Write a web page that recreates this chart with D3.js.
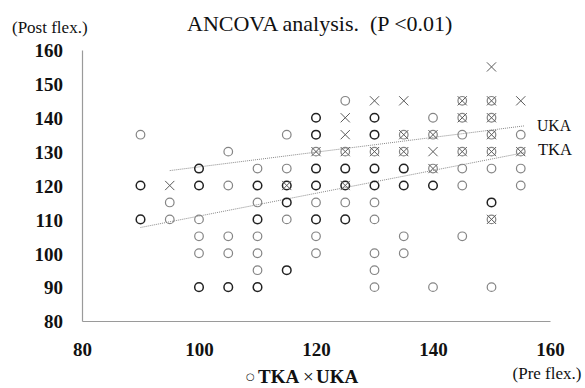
<!DOCTYPE html>
<html><head><meta charset="utf-8">
<script src="https://cdn.jsdelivr.net/npm/d3@7"></script>
<style>body{margin:0;background:#fff}svg{display:block}</style></head>
<body><svg id="c" width="585" height="388"></svg>
<script>
// Pre-op flexion columns (x) and the post-op flexion values (y) found in each
const tkaColumns = [90, 95, 100, 105, 110, 115, 120, 125, 130, 135, 140, 145, 150, 155];
const tkaPost = [
  [135, 120, 110],
  [115, 110],
  [125, 120, 110, 105, 100, 90],
  [130, 120, 105, 100, 90],
  [125, 120, 115, 110, 105, 100, 95, 90],
  [135, 125, 120, 115, 110, 95],
  [140, 135, 130, 125, 120, 115, 110, 105, 100],
  [145, 130, 125, 120, 115, 110],
  [140, 135, 130, 125, 120, 115, 110, 100, 95, 90],
  [135, 130, 125, 120, 105, 100],
  [140, 135, 125, 120, 90],
  [145, 140, 135, 130, 125, 120, 105],
  [145, 140, 135, 130, 125, 115, 110, 90],
  [135, 130, 125, 120]
];
// number of overlapping patients (darker circle = 2)
const tkaCount = [
  [1, 2, 2],
  [1, 1],
  [2, 2, 1, 1, 1, 2],
  [1, 1, 1, 1, 2],
  [1, 2, 1, 2, 1, 1, 1, 2],
  [1, 1, 2, 2, 1, 2],
  [2, 2, 1, 2, 2, 1, 2, 1, 1],
  [1, 1, 2, 2, 1, 2],
  [2, 2, 1, 2, 2, 1, 1, 1, 1, 1],
  [1, 1, 2, 2, 1, 1],
  [1, 1, 1, 2, 1],
  [1, 1, 1, 1, 1, 1, 1],
  [1, 1, 1, 1, 1, 2, 1, 1],
  [1, 1, 1, 1]
];
const ukaPre  = [95, 115, 120, 125, 125, 125, 125, 130, 130, 135, 135, 135, 140, 140, 140, 145, 145, 145, 150, 150, 150, 150, 150, 150, 155, 155];
const ukaPost = [120, 120, 130, 140, 135, 130, 120, 145, 130, 145, 135, 130, 135, 130, 125, 145, 140, 130, 155, 145, 140, 135, 130, 110, 145, 130];

// regression lines (end points)
const ukaTrendPre  = [95, 155.6];
const ukaTrendPost = [124.4, 137.6];
const tkaTrendPre  = [90, 155.6];
const tkaTrendPost = [107.6, 129.7];

const xTicks = [80, 100, 120, 140, 160];
const yTicks = [80, 90, 100, 110, 120, 130, 140, 150, 160];

const FONT = "'Liberation Serif','Times New Roman',serif";
const svg = d3.select('#c');
const x = d3.scaleLinear().domain([80, 160]).range([82, 550]);
const y = d3.scaleLinear().domain([80, 160]).range([321, 50]);

// axes
const gy = svg.append('g').attr('transform', `translate(${x(80)},0)`)
  .call(d3.axisLeft(y).tickValues(yTicks).tickSize(0).tickPadding(19).tickFormat(d3.format('d')));
const gx = svg.append('g').attr('transform', `translate(0,${y(80)})`)
  .call(d3.axisBottom(x).tickValues(xTicks).tickSize(0).tickPadding(21.5).tickFormat(d3.format('d')));
[gx, gy].forEach(g => {
  g.attr('font-family', FONT);
  g.select('.domain').attr('stroke', '#9a9a9a').attr('stroke-width', 1.2);
  g.selectAll('text').attr('font-family', FONT).attr('font-size', 19).attr('font-weight', 'bold').attr('fill', '#111');
});
gy.selectAll('text').attr('dy', '0.36em');

// trend lines
const trends = [[ukaTrendPre, ukaTrendPost], [tkaTrendPre, tkaTrendPost]];
svg.append('g').selectAll('line').data(trends).join('line')
  .attr('x1', d => x(d[0][0])).attr('y1', d => y(d[1][0]))
  .attr('x2', d => x(d[0][1])).attr('y2', d => y(d[1][1]))
  .attr('stroke', '#8a8a8a').attr('stroke-width', 1).attr('stroke-dasharray', '1,1');

// TKA circles
const tkaPts = [];
tkaColumns.forEach((c, i) => tkaPost[i].forEach((v, j) => tkaPts.push({pre: c, post: v, n: tkaCount[i][j]})));
svg.append('g').selectAll('circle').data(tkaPts).join('circle')
  .attr('cx', d => x(d.pre)).attr('cy', d => y(d.post)).attr('r', 4.3)
  .attr('fill', 'none')
  .attr('stroke', d => d.n > 1 ? '#222' : '#858585')
  .attr('stroke-width', d => d.n > 1 ? 1.5 : 1.2);

// UKA crosses
const s = 4.6;
svg.append('g').selectAll('path').data(ukaPre.map((p, i) => ({pre: p, post: ukaPost[i]}))).join('path')
  .attr('d', d => {
    const cx = x(d.pre), cy = y(d.post);
    return `M${cx - s},${cy - s}L${cx + s},${cy + s}M${cx - s},${cy + s}L${cx + s},${cy - s}`;
  })
  .attr('stroke', '#5a5a5a').attr('stroke-width', 1).attr('fill', 'none');

// texts
svg.append('text').attr('x', 187).attr('y', 31).attr('font-family', FONT).attr('font-size', 22)
  .attr('fill', '#111').attr('xml:space', 'preserve').text('ANCOVA analysis.  (P <0.01)');
svg.append('text').attr('x', 12).attr('y', 33).attr('font-family', FONT).attr('font-size', 17)
  .attr('fill', '#111').text('(Post flex.)');
svg.append('text').attr('x', 547).attr('y', 379).attr('text-anchor', 'middle').attr('font-family', FONT).attr('font-size', 17)
  .attr('fill', '#111').text('(Pre flex.)');
svg.append('text').attr('x', 537).attr('y', 131).attr('font-family', FONT).attr('font-size', 17)
  .attr('textLength', 34).attr('lengthAdjust', 'spacingAndGlyphs').attr('fill', '#111').text('UKA');
svg.append('text').attr('x', 538).attr('y', 155).attr('font-family', FONT).attr('font-size', 17)
  .attr('textLength', 34).attr('lengthAdjust', 'spacingAndGlyphs').attr('fill', '#111').text('TKA');

// legend
const leg = svg.append('text').attr('y', 383).attr('font-family', FONT).attr('fill', '#111');
leg.append('tspan').attr('x', 246).attr('font-size', 10).attr('font-family', "'DejaVu Sans',sans-serif").attr('dy', -3).text('○');
leg.append('tspan').attr('x', 258).attr('dy', 3).attr('font-size', 19).attr('font-weight', 'bold').text('TKA');
leg.append('tspan').attr('x', 303).attr('font-size', 19).text('×');
leg.append('tspan').attr('x', 316).attr('font-size', 19).attr('font-weight', 'bold').text('UKA');
</script></body></html>
